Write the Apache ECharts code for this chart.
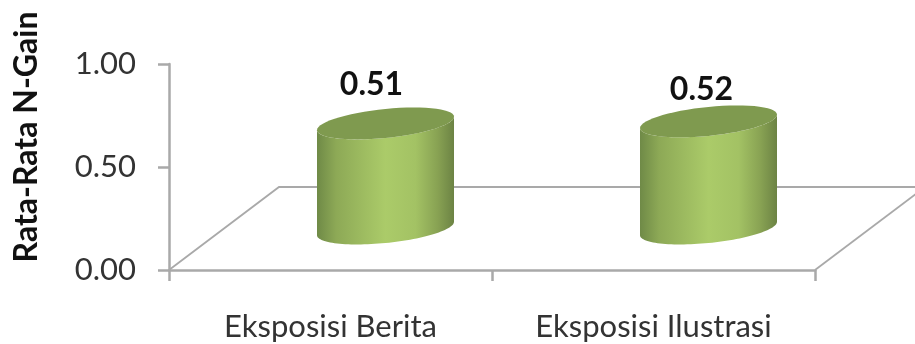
<!DOCTYPE html>
<html>
<head>
<meta charset="utf-8">
<title>Rata-Rata N-Gain</title>
<style>html,body{margin:0;padding:0;background:#fff}#chart{width:915px;height:344px}</style>
<script src="https://cdn.jsdelivr.net/npm/echarts@6/dist/echarts.min.js"></script>
</head>
<body>
<div id="chart"></div>
<script>
const categories = ['Eksposisi Berita', 'Eksposisi Ilustrasi'];
const nGain = [0.51, 0.52];
const valueTicks = [0, 0.5, 1];

// Pseudo-3D floor: how far the back edge recedes from the front plane, in pixels.
const DEPTH_X = 110;
const DEPTH_Y = -83;
// Cylinder footprint.
const RADIUS_X = 68.5;
const TILT = 6.7;
const RADIUS_Y = 14.5;
// Hand-placed value labels, relative to the centre of each cylinder's top.
const labelShift = [[-14, -39], [-7, -32]];

const chart = echarts.init(document.getElementById('chart'), null, { renderer: 'canvas' });

const GREY = '#a9a9a9';
const FONT = 'Lato, "Open Sans", sans-serif';

function rim(cx, cy, from, to) {
  const pts = [];
  const steps = 60;
  for (let i = 0; i <= steps; i++) {
    const t = from + (to - from) * i / steps;
    pts.push([cx + RADIUS_X * Math.cos(t), cy - TILT * Math.cos(t) + RADIUS_Y * Math.sin(t)]);
  }
  return pts;
}

function renderFloor(params, api) {
  const band = api.size([1, 0])[0];
  const start = api.coord([0, 0]);
  const x0 = start[0] - band / 2;
  const y0 = start[1];
  const x1 = x0 + band * categories.length;
  const line = (pts, w) => ({
    type: 'polyline',
    shape: { points: pts },
    style: { stroke: GREY, lineWidth: w, fill: null }
  });
  return {
    type: 'group',
    children: [
      line([[x0, y0], [x0 + DEPTH_X, y0 + DEPTH_Y], [x1 + DEPTH_X, y0 + DEPTH_Y]], 1.8),
      line([[x1, y0], [x1 + DEPTH_X, y0 + DEPTH_Y]], 1.8)
    ]
  };
}

function renderCylinder(params, api) {
  const i = api.value(0);
  const v = api.value(1);
  const base = api.coord([i, 0]);
  const top = api.coord([i, v]);
  const cx = base[0] + DEPTH_X / 2;
  const baseY = base[1] + DEPTH_Y / 2;
  const topY = top[1] + DEPTH_Y / 2;
  const body = rim(cx, baseY, Math.PI, 0).concat(rim(cx, topY, 0, Math.PI));
  const cap = rim(cx, topY, 0, Math.PI * 2);
  const shift = labelShift[i];
  return {
    type: 'group',
    children: [
      {
        type: 'polygon',
        shape: { points: body },
        style: {
          fill: new echarts.graphic.LinearGradient(0, 0, 1, 0, [
            { offset: 0, color: '#6f8a47' },
            { offset: 0.14, color: '#8da956' },
            { offset: 0.5, color: '#abcb69' },
            { offset: 0.72, color: '#a3c264' },
            { offset: 0.88, color: '#88a253' },
            { offset: 1, color: '#6c8344' }
          ])
        }
      },
      { type: 'polygon', shape: { points: cap }, style: { fill: '#7f9a4f' } },
      {
        type: 'text',
        style: {
          text: v.toFixed(2),
          x: cx + shift[0],
          y: topY + shift[1],
          align: 'center',
          verticalAlign: 'middle',
          fontFamily: FONT,
          fontWeight: 'bold',
          fontSize: 32,
          fill: '#111'
        }
      }
    ]
  };
}

chart.setOption({
  animation: false,
  backgroundColor: '#fff',
  grid: { left: 169, right: 100, top: 64, bottom: 74, outerBoundsMode: 'none' },
  xAxis: {
    type: 'category',
    data: categories,
    axisLine: { lineStyle: { color: GREY, width: 2.5 } },
    axisTick: { show: true, interval: 0, length: 11, lineStyle: { color: GREY, width: 2.5 } },
    axisLabel: { margin: 41, color: '#333', fontFamily: FONT, fontSize: 31, interval: 0 }
  },
  yAxis: {
    type: 'value',
    min: valueTicks[0],
    max: valueTicks[valueTicks.length - 1],
    interval: valueTicks[1] - valueTicks[0],
    name: 'Rata-Rata N-Gain',
    nameLocation: 'middle',
    nameRotate: 90,
    nameGap: 126,
    nameTextStyle: { color: '#111', fontFamily: FONT, fontWeight: 'bold', fontSize: 32, padding: [0, 0, 0, 60] },
    splitLine: { show: false },
    axisLine: { show: true, lineStyle: { color: GREY, width: 2.5 } },
    axisTick: { show: true, length: 11, lineStyle: { color: GREY, width: 2.5 } },
    axisLabel: {
      margin: 33,
      padding: [12, 0, 0, 0],
      color: '#333',
      fontFamily: FONT,
      fontSize: 31,
      formatter: (v) => v.toFixed(2)
    }
  },
  series: [
    { type: 'custom', name: 'Floor', renderItem: renderFloor, data: [[0, 0]], encode: { x: 0, y: 1 }, clip: false, silent: true, z: 1 },
    { type: 'custom', name: 'N-Gain', renderItem: renderCylinder, data: nGain.map((v, i) => [i, v]), encode: { x: 0, y: 1 }, clip: false, z: 5 }
  ]
});
</script>
</body>
</html>
